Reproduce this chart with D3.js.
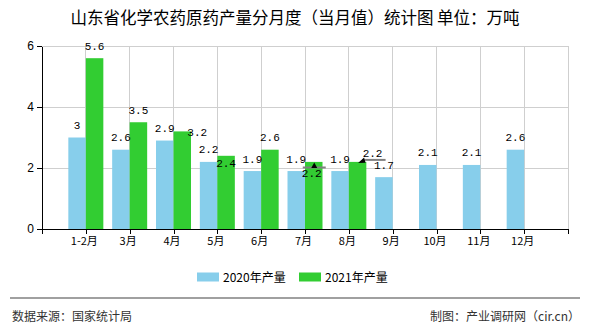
<!DOCTYPE html>
<html><head><meta charset="utf-8">
<script src="https://cdn.jsdelivr.net/npm/d3@7"></script>
<style>
html,body{margin:0;padding:0;background:#fff;}
svg{display:block;}
</style>
</head><body>
<svg id="chart" width="590" height="330"></svg>
<script>
const categories = ["1-2月","3月","4月","5月","6月","7月","8月","9月","10月","11月","12月"];
const values2020 = [3, 2.6, 2.9, 2.2, 1.9, 1.9, 1.9, 1.7, 2.1, 2.1, 2.6];
const values2021 = [5.6, 3.5, 3.2, 2.4, 2.6, 2.2, 2.2, null, null, null, null];
const seriesNames = ["2020年产量", "2021年产量"];
const yTicks = [0, 2, 4, 6];
const titleText = "山东省化学农药原药产量分月度（当月值）统计图 单位：万吨";
const sourceText = "数据来源：国家统计局";
const creditText = "制图：产业调研网（cir.cn）";

(function () {
const colors = ["#87CEEB", "#32CD32"];
const cjk = "'Noto Sans CJK SC', 'Noto Sans', sans-serif";
const mono = "'Liberation Mono', 'DejaVu Sans Mono', monospace";

// label nudges (layout only): key "seriesIndex-categoryIndex"
const labelNudge = {
  "1-2": {dx: 15, dy: 12.8},
  "1-3": {dx: 0, dy: 19.7},
  "1-5": {dx: -2, dy: 23.6},
  "1-6": {dx: 15, dy: 3.6}
};

const svg = d3.select("#chart");
const pLeft = 42, pRight = 568, pTop = 46, pBottom = 229;
const x = d3.scaleLinear().domain([0, categories.length + 1]).range([pLeft, pRight]);
const y = d3.scaleLinear().domain([0, 6]).range([pBottom, pTop]);
const barW = 17.5;
const sub = d3.scaleBand().domain([0, 1]).range([-barW, barW]).padding(0);

// title
svg.append("text").attr("x", 295).attr("y", 24).attr("text-anchor", "middle")
  .attr("font-family", cjk).attr("font-size", "16.5px").attr("fill", "#000")
  .attr("xml:space", "preserve")
  .text(titleText);

// grid
const gGrid = svg.append("g");
gGrid.selectAll("line.h").data(yTicks.filter(d => d > 0)).enter().append("line")
  .attr("x1", pLeft).attr("x2", pRight).attr("y1", d => y(d)).attr("y2", d => y(d))
  .attr("stroke", "#cfcfcf").attr("stroke-width", 1).attr("shape-rendering", "crispEdges");
gGrid.selectAll("line.v").data(d3.range(1, categories.length + 2)).enter().append("line")
  .attr("x1", d => x(d)).attr("x2", d => x(d)).attr("y1", pTop).attr("y2", pBottom)
  .attr("stroke", "#cfcfcf").attr("stroke-width", 1).attr("shape-rendering", "crispEdges");

// bars
const series = [values2020, values2021];
series.forEach((vals, si) => {
  svg.append("g").selectAll("rect").data(vals.map((v, i) => ({v, i})).filter(d => d.v != null))
    .enter().append("rect")
    .attr("x", d => x(d.i + 1) + sub(si))
    .attr("width", sub.bandwidth())
    .attr("y", d => y(d.v))
    .attr("height", d => y(0) - y(d.v))
    .attr("fill", colors[si]);
});

// axes
const yAxis = d3.axisLeft(y).tickValues(yTicks).tickSize(5).tickSizeOuter(0).tickFormat(d3.format("d"));
const gy = svg.append("g").attr("transform", `translate(${pLeft},0)`).call(yAxis);
gy.selectAll("path,line").attr("stroke", "#000").attr("shape-rendering", "crispEdges");
gy.selectAll("text").attr("font-family", "'Liberation Sans', sans-serif").attr("font-size", "12px").attr("fill", "#000");

const xAxis = d3.axisBottom(x).tickValues(d3.range(0, categories.length + 2)).tickSize(5).tickSizeOuter(0)
  .tickFormat(d => (d >= 1 && d <= categories.length) ? categories[d - 1] : "");
const gx = svg.append("g").attr("transform", `translate(0,${pBottom})`).call(xAxis);
gx.selectAll("path,line").attr("stroke", "#000").attr("shape-rendering", "crispEdges");
gx.selectAll("text").attr("font-family", cjk).attr("font-size", "11px").attr("fill", "#000")
  .attr("dx", "-2px");

// value labels
series.forEach((vals, si) => {
  svg.append("g").selectAll("text").data(vals.map((v, i) => ({v, i})).filter(d => d.v != null))
    .enter().append("text")
    .attr("x", d => x(d.i + 1) + sub(si) + barW / 2 + ((labelNudge[si + "-" + d.i] || {}).dx || 0))
    .attr("y", d => y(d.v) - 8.5 + ((labelNudge[si + "-" + d.i] || {}).dy || 0))
    .attr("text-anchor", "middle")
    .attr("font-family", mono).attr("font-size", "11px").attr("fill", "#000")
    .text(d => String(d.v));
});

// leader artefacts near overlapping labels
const leaders = [
  {si: 1, i: 5, x1: -11, x2: 12, dy: 5.6, tri: [[-2.5, 6], [0.5, 0.5], [3.5, 6]]},
  {si: 1, i: 6, x1: 7, x2: 28, dy: -2, tri: [[0.5, 1.2], [6.5, -4.5], [8, 0.8]]}
];
leaders.forEach(l => {
  const cx = x(l.i + 1) + sub(l.si) + barW / 2;
  const cy = y(series[l.si][l.i]);
  svg.append("line").attr("x1", cx + l.x1).attr("x2", cx + l.x2)
    .attr("y1", cy + l.dy).attr("y2", cy + l.dy)
    .attr("stroke", "#808080").attr("stroke-width", 2);
  svg.append("polygon").attr("points", l.tri.map(p => [cx + p[0], cy + p[1]].join(",")).join(" "))
    .attr("fill", "#000");
});

// legend
const legend = svg.append("g");
const legendX = [197, 299];
seriesNames.forEach((n, si) => {
  legend.append("rect").attr("x", legendX[si]).attr("y", 272.5).attr("width", 22).attr("height", 9)
    .attr("fill", colors[si]);
  legend.append("text").attr("x", legendX[si] + 26).attr("y", 281.5)
    .attr("font-family", cjk).attr("font-size", "12px").attr("fill", "#000").text(n);
});

// footer
svg.append("line").attr("x1", 10).attr("x2", 580).attr("y1", 298).attr("y2", 298)
  .attr("stroke", "#808080").attr("stroke-width", 1.5);
svg.append("text").attr("x", 12).attr("y", 321).attr("font-family", cjk).attr("font-size", "12px")
  .attr("fill", "#333").text(sourceText);
svg.append("text").attr("x", 580).attr("y", 321).attr("text-anchor", "end").attr("font-family", cjk)
  .attr("font-size", "12px").attr("fill", "#333").text(creditText);
})();
</script>
</body></html>
